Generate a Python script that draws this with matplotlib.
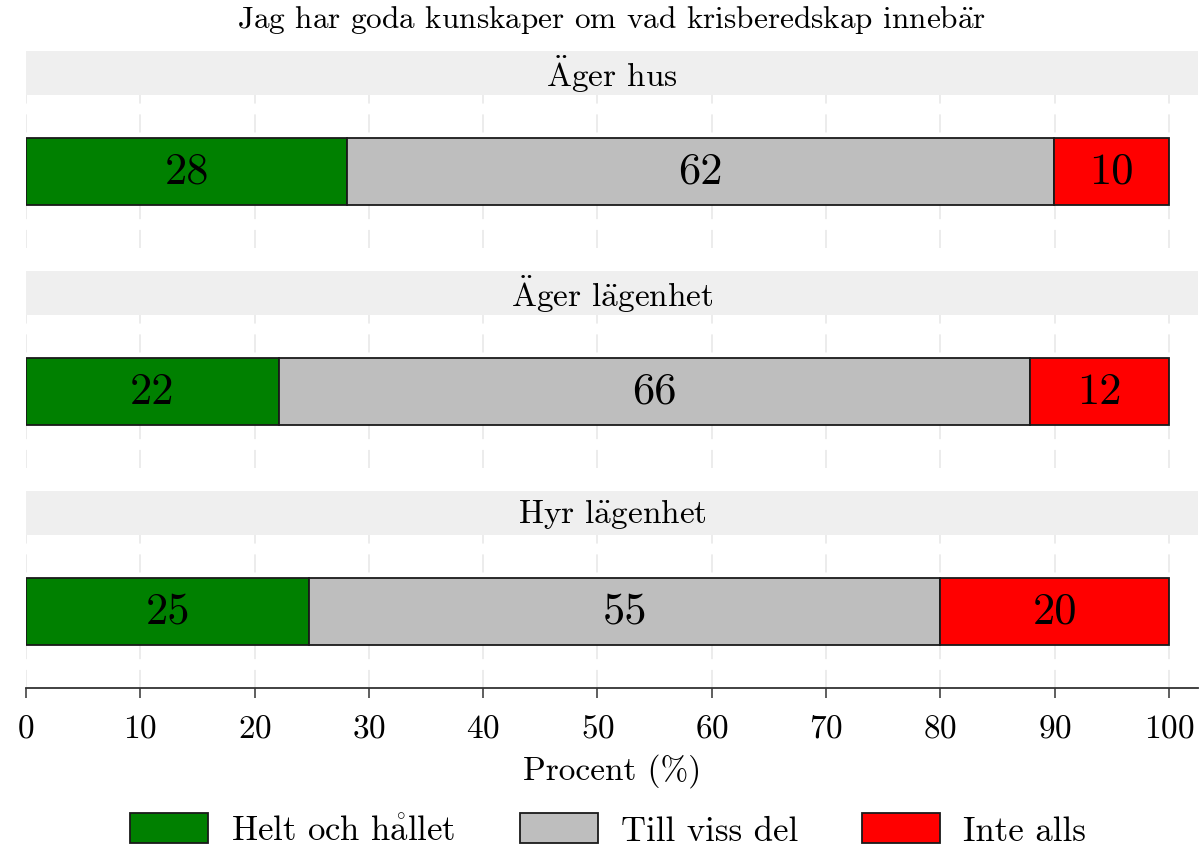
import matplotlib
matplotlib.use("Agg")
import matplotlib.pyplot as plt
from matplotlib.patches import Patch

plt.rcParams['font.family'] = ['cmr10', 'DejaVu Serif']
plt.rcParams['axes.formatter.use_mathtext'] = True
plt.rcParams['mathtext.fontset'] = 'cm'

title = "Jag har goda kunskaper om vad krisberedskap innebär"
groups = ["Äger hus", "Äger lägenhet", "Hyr lägenhet"]
categories = ["Helt och hållet", "Till viss del", "Inte alls"]
colors = ["#008000", "#bebebe", "#ff0000"]
values = [
    [28.1, 61.8, 10.1],
    [22.1, 65.7, 12.2],
    [24.8, 55.2, 20.0],
]
xticks = [0, 10, 20, 30, 40, 50, 60, 70, 80, 90, 100]
xlabel = "Procent (%)"


def cm(s):
    # render Swedish accented letters with Computer Modern accents
    rep = {
        "Ä": r"$\ddot{\mathrm{A}}$",
        "ä": r"$\ddot{\mathrm{a}}$",
        "å": r"$\mathring{\mathrm{a}}$",
    }
    return "".join(rep.get(ch, ch) for ch in s)


W, H = 1201, 853
fig = plt.figure(figsize=(W / 100, H / 100), dpi=100)


def fx(px):
    return px / W


def fy(py):
    return 1 - py / H


left_px, right_px = 26, 1198
xmax = 102.54
strip_tops = [52, 272, 492]
strip_h = 44
panel_h = 153

fig.text(fx(612), fy(20), cm(title), ha='center', va='center', fontsize=22.5)

for i, (g, vals) in enumerate(zip(groups, values)):
    st = strip_tops[i]
    sax = fig.add_axes([fx(left_px), fy(st + strip_h), fx(right_px - left_px), strip_h / H])
    sax.set_facecolor('#efefef')
    sax.set_xticks([]); sax.set_yticks([])
    for s in sax.spines.values():
        s.set_visible(False)
    sax.text(0.5, 0.5, cm(g), ha='center', va='center', fontsize=24, transform=sax.transAxes)

    pt = st + strip_h
    ax = fig.add_axes([fx(left_px), fy(pt + panel_h), fx(right_px - left_px), panel_h / H])
    ax.set_xlim(0, xmax)
    ax.set_ylim(-0.5, 0.5)
    ax.set_yticks([])
    for s in ['top', 'right', 'left']:
        ax.spines[s].set_visible(False)
    ax.set_xticks(xticks)
    ax.grid(axis='x', color='#ebebeb', linewidth=1.3, linestyle=(0, (10, 6)))
    ax.set_axisbelow(True)
    left = 0
    for v, c in zip(vals, colors):
        ax.barh(0, v, left=left, height=0.44, color=c, edgecolor='#1a1a1a', linewidth=1.3)
        ax.text(left + v / 2, 0, f"{round(v):d}", ha='center', va='center', fontsize=32)
        left += v
    if i < 2:
        ax.spines['bottom'].set_visible(False)
        ax.tick_params(axis='x', length=0, labelbottom=False)
    else:
        ax.spines['bottom'].set_color('#333333')
        ax.spines['bottom'].set_linewidth(1.3)
        ax.tick_params(axis='x', length=7, width=1.1, color='#333333', labelsize=24, pad=11)
        ax.set_xlabel(xlabel, fontsize=24, labelpad=8)

handles = [Patch(facecolor=c, edgecolor='#1a1a1a', linewidth=1.3) for c in colors]
fig.legend(handles, [cm(c) for c in categories], loc='center', bbox_to_anchor=(fx(608), fy(831)),
           ncol=3, frameon=False, fontsize=25, handlelength=2.25, handleheight=0.95,
           handletextpad=0.66, columnspacing=1.84)

fig.savefig("out.png", dpi=100)
